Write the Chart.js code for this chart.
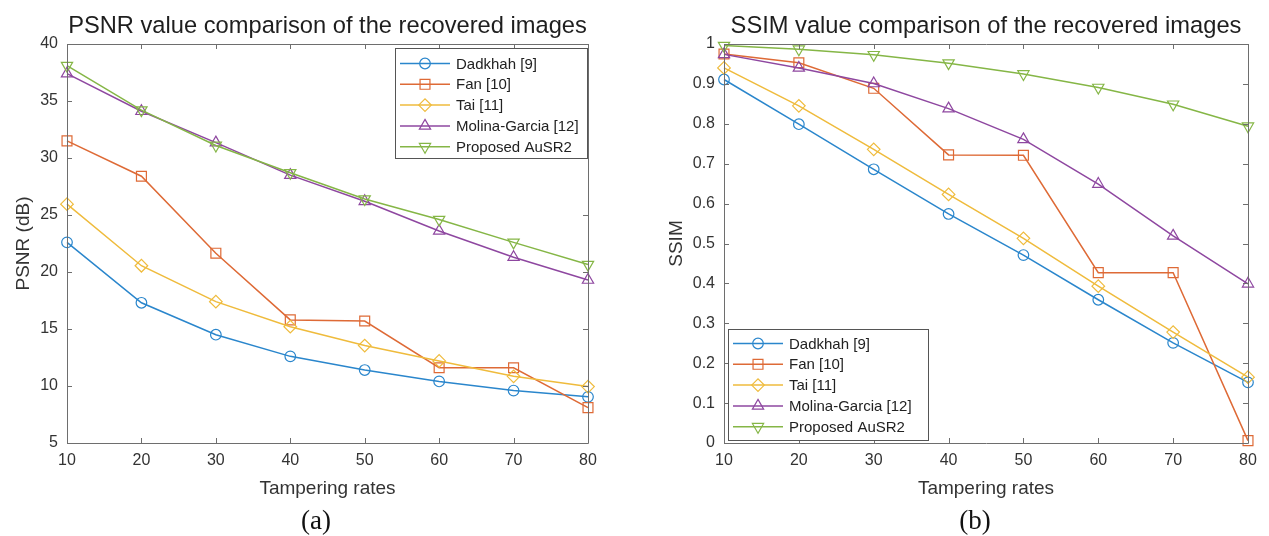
<!DOCTYPE html>
<html><head><meta charset="utf-8">
<script src="https://cdn.jsdelivr.net/npm/chart.js@4.4.1/dist/chart.umd.min.js"></script>
<style>
html,body{margin:0;padding:0;background:#fff;width:1269px;height:536px;overflow:hidden}
.wrap{position:absolute;top:0;height:536px}
.cap{position:absolute;font-family:"Liberation Serif","DejaVu Serif",serif;font-size:27px;color:#111;transform:translateX(-50%);line-height:30px}
</style></head><body>
<div class="wrap" style="left:0;width:634px"><canvas id="c1" width="634" height="536"></canvas></div>
<div class="wrap" style="left:634px;width:635px"><canvas id="c2" width="635" height="536"></canvas></div>
<div class="cap" style="left:316px;top:505px">(a)</div>
<div class="cap" style="left:975px;top:505px">(b)</div>
<script>
// ---- data ----
const rates = [10, 20, 30, 40, 50, 60, 70, 80];
const seriesNames = ['Dadkhah [9]', 'Fan [10]', 'Tai [11]', 'Molina-Garcia [12]', 'Proposed AuSR2'];

const psnrDadkhah  = [22.6, 17.3, 14.5, 12.6, 11.4, 10.4, 9.6, 9.05];
const psnrFan      = [31.5, 28.4, 21.65, 15.8, 15.7, 11.6, 11.6, 8.1];
const psnrTai      = [25.95, 20.55, 17.4, 15.2, 13.55, 12.2, 10.85, 9.95];
const psnrMolina   = [37.4, 34.1, 31.35, 28.5, 26.2, 23.6, 21.3, 19.3];
const psnrProposed = [38.1, 34.2, 31.1, 28.7, 26.4, 24.6, 22.6, 20.65];

const ssimDadkhah  = [0.911, 0.799, 0.686, 0.574, 0.471, 0.359, 0.251, 0.152];
const ssimFan      = [0.975, 0.953, 0.889, 0.722, 0.721, 0.427, 0.427, 0.006];
const ssimTai      = [0.940, 0.845, 0.736, 0.623, 0.513, 0.393, 0.278, 0.165];
const ssimMolina   = [0.974, 0.940, 0.901, 0.838, 0.761, 0.649, 0.519, 0.399];
const ssimProposed = [0.996, 0.987, 0.973, 0.952, 0.925, 0.891, 0.849, 0.794];

const psnrTicks = [5, 10, 15, 20, 25, 30, 35, 40];
const ssimTicks = [0, 0.1, 0.2, 0.3, 0.4, 0.5, 0.6, 0.7, 0.8, 0.9, 1];
const rateTicks = [10, 20, 30, 40, 50, 60, 70, 80];

// ---- styles ----
const colors = ['#2a86cc', '#de6a36', '#efbb3c', '#8e47a0', '#85b646'];
const markers = [
  {pointStyle: 'circle', rotation: 0, radius: 5.3},
  {pointStyle: 'rect', rotation: 0, radius: 7},
  {pointStyle: 'rectRot', rotation: 0, radius: 6.3},
  {pointStyle: 'triangle', rotation: 0, radius: 6.5},
  {pointStyle: 'triangle', rotation: 180, radius: 6.5}
];

Chart.defaults.font.family = "'Liberation Sans', Arial, sans-serif";
Chart.defaults.color = '#333';

function makeDatasets(seriesArrays) {
  return seriesArrays.map((vals, i) => ({
    label: seriesNames[i],
    data: rates.map((r, k) => ({x: r, y: vals[k]})),
    borderColor: colors[i],
    backgroundColor: 'rgba(0,0,0,0)',
    borderWidth: 1.5,
    pointStyle: markers[i].pointStyle,
    rotation: markers[i].rotation,
    pointRadius: markers[i].radius,
    pointHoverRadius: markers[i].radius,
    pointBorderColor: colors[i],
    pointBackgroundColor: 'rgba(0,0,0,0)',
    pointBorderWidth: 1.2,
    tension: 0,
    clip: false,
    order: 5 - i
  }));
}

// MATLAB-like box with inward ticks on all four sides
const matlabAxes = {
  id: 'matlabAxes',
  afterDatasetsDraw(chart) {
    const {ctx, chartArea: a, scales} = chart;
    const xs = scales.x, ys = scales.y;
    ctx.save();
    ctx.strokeStyle = '#6e6e6e';
    ctx.lineWidth = 1;
    ctx.beginPath();
    ctx.rect(Math.round(a.left) + 0.5, Math.round(a.top) + 0.5,
             Math.round(a.right - a.left), Math.round(a.bottom - a.top));
    ctx.stroke();
    const L = 5;
    ctx.beginPath();
    xs.ticks.forEach(t => {
      const px = Math.round(xs.getPixelForValue(t.value)) + 0.5;
      ctx.moveTo(px, a.bottom); ctx.lineTo(px, a.bottom - L);
      ctx.moveTo(px, a.top); ctx.lineTo(px, a.top + L);
    });
    ys.ticks.forEach(t => {
      const py = Math.round(ys.getPixelForValue(t.value)) + 0.5;
      ctx.moveTo(a.left, py); ctx.lineTo(a.left + L, py);
      ctx.moveTo(a.right, py); ctx.lineTo(a.right - L, py);
    });
    ctx.stroke();
    ctx.restore();
  }
};

// MATLAB-like legend box drawn inside the plot
const mlLegend = {
  id: 'mlLegend',
  afterDraw(chart, args, opts) {
    const {ctx} = chart;
    const ds = chart.data.datasets;
    ctx.save();
    ctx.fillStyle = '#fff';
    ctx.fillRect(opts.left, opts.top, opts.width, opts.height);
    ctx.strokeStyle = '#555';
    ctx.lineWidth = 1;
    ctx.strokeRect(opts.left + 0.5, opts.top + 0.5, opts.width, opts.height);
    ctx.font = "15px 'Liberation Sans', Arial, sans-serif";
    ctx.textBaseline = 'middle';
    ctx.textAlign = 'left';
    ds.forEach((d, i) => {
      const y = opts.firstRow + i * opts.rowStep;
      const x0 = opts.left + 5, x1 = opts.left + 55, xm = opts.left + 30;
      ctx.strokeStyle = d.borderColor;
      ctx.lineWidth = 1.5;
      ctx.beginPath(); ctx.moveTo(x0, y); ctx.lineTo(x1, y); ctx.stroke();
      ctx.fillStyle = 'rgba(0,0,0,0)';
      ctx.lineWidth = 1.2;
      Chart.helpers.drawPoint(ctx, {pointStyle: d.pointStyle, rotation: d.rotation,
        radius: d.pointRadius, borderWidth: 1.2}, xm, y);
      ctx.fillStyle = '#222';
      ctx.fillText(d.label, opts.left + 61, y + 1);
    });
    ctx.restore();
  }
};

function makeChart(id, cfg) {
  return new Chart(document.getElementById(id), {
    type: 'line',
    data: {datasets: makeDatasets(cfg.series)},
    plugins: [matlabAxes, mlLegend],
    options: {
      responsive: false,
      animation: false,
      events: [],
      layout: {padding: {left: 0, top: 0, right: cfg.padRight, bottom: 33}},
      plugins: {
        legend: {display: false},
        tooltip: {enabled: false},
        title: {
          display: true, text: cfg.title, fullSize: false,
          color: '#1e1e1e', font: {size: 23.7, weight: 'normal', lineHeight: 1.2},
          padding: {top: 12, bottom: 3.56}
        },
        mlLegend: cfg.legend
      },
      scales: {
        x: {
          type: 'linear', min: 10, max: 80,
          afterBuildTicks: s => { s.ticks = rateTicks.map(v => ({value: v})); },
          grid: {display: false, drawTicks: false},
          border: {display: false},
          ticks: {font: {size: 16}, color: '#333', padding: 8, maxRotation: 0, autoSkip: false},
          title: {display: true, text: 'Tampering rates', color: '#333',
                  font: {size: 19, lineHeight: 1.2}, padding: {top: 0, bottom: 3}},
          afterFit: s => { s.height = 60; }
        },
        y: {
          type: 'linear', min: cfg.yMin, max: cfg.yMax,
          afterBuildTicks: s => { s.ticks = cfg.yTicks.map(v => ({value: v})); },
          grid: {display: false, drawTicks: false},
          border: {display: false},
          ticks: {font: {size: 16}, color: '#333', padding: 9, autoSkip: false,
                  callback: v => String(Math.round(v * 10) / 10)},
          title: {display: true, text: cfg.yTitle, color: '#333',
                  font: {size: 19, lineHeight: 1.2}, padding: {top: cfg.yTitlePad, bottom: 0}},
          afterFit: s => { s.width = cfg.yWidth; }
        }
      }
    }
  });
}

makeChart('c1', {
  series: [psnrDadkhah, psnrFan, psnrTai, psnrMolina, psnrProposed],
  title: 'PSNR value comparison of the recovered images',
  yTitle: 'PSNR (dB)', yMin: 5, yMax: 40, yTicks: psnrTicks,
  yWidth: 67, yTitlePad: 12.5, padRight: 46,
  legend: {left: 395, top: 48, width: 192, height: 110, firstRow: 63.5, rowStep: 20.8}
});

makeChart('c2', {
  series: [ssimDadkhah, ssimFan, ssimTai, ssimMolina, ssimProposed],
  title: 'SSIM value comparison of the recovered images',
  yTitle: 'SSIM', yMin: 0, yMax: 1, yTicks: ssimTicks,
  yWidth: 90, yTitlePad: 31.5, padRight: 21,
  legend: {left: 94, top: 329, width: 200, height: 111, firstRow: 343.5, rowStep: 20.8}
});
</script>
</body></html>
